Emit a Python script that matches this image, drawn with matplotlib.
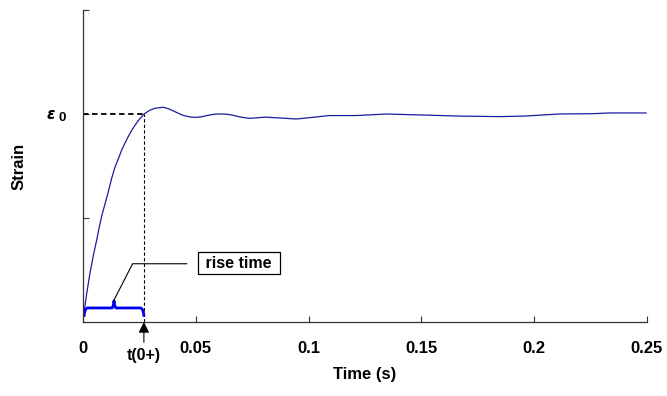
import matplotlib
matplotlib.use('Agg')
import matplotlib.pyplot as plt
import matplotlib.transforms as mtransforms
import numpy as np

plt.rcParams['font.family'] = ['Liberation Sans', 'DejaVu Sans']

# strain response (eps0 = 2 on this scale)
time_s = [0, 0.0004, 0.0017, 0.0031, 0.0046, 0.0061, 0.0072, 0.0083, 0.0097,
          0.0112, 0.0127, 0.0142, 0.0157, 0.0171, 0.0186, 0.020, 0.0215, 0.023,
          0.025, 0.0271, 0.0295, 0.0319, 0.0355,
          0.038, 0.040, 0.042, 0.044, 0.046, 0.048, 0.050,
          0.052, 0.054, 0.056, 0.058, 0.060, 0.062, 0.064, 0.066, 0.068, 0.070,
          0.0739, 0.081, 0.0947, 0.1049, 0.109, 0.121, 0.1345, 0.151, 0.167,
          0.1845, 0.1956, 0.211, 0.2257, 0.2332, 0.2496]
strain = [0.04, 0.08, 0.28, 0.47, 0.64, 0.79, 0.91, 1.02, 1.13,
          1.25, 1.38, 1.49, 1.57, 1.65, 1.72, 1.78, 1.84, 1.89,
          1.95, 2.00, 2.035, 2.055, 2.065,
          2.05, 2.03, 2.01, 1.99, 1.978, 1.97, 1.968,
          1.972, 1.98, 1.99, 1.997, 2.0, 2.0, 1.997, 1.99, 1.98, 1.97,
          1.958, 1.97, 1.952, 1.975, 1.985, 1.985, 2.0, 1.99, 1.98,
          1.975, 1.98, 2.0, 2.003, 2.01, 2.01]

eps0 = 2.0
t_rise = 0.027
x_ticks = [0, 0.05, 0.1, 0.15, 0.2, 0.25]
x_labels = ['0', '0.05', '0.1', '0.15', '0.2', '0.25']
y_ticks = [0, 1, 2, 3]

fig = plt.figure(figsize=(6.67, 3.96), dpi=100)
ax = fig.add_axes([0.1244, 0.1869, 0.8456, 0.7878])

ax.plot(time_s, strain, color='#1c1c9c', lw=0.9)

# dashed guides to eps0 and rise time
ax.plot([0, t_rise], [eps0, eps0], color='black', ls=(0, (3, 2)), lw=1.3)
ax.plot([t_rise, t_rise], [0, eps0], color='black', ls=(0, (3, 2)), lw=0.8)

# brace marking the rise time
def brace(x0, x1, y, h):
    xm = 0.5 * (x0 + x1)
    r = (x1 - x0) * 0.06
    a = np.linspace(0, np.pi / 2, 10)
    left = np.c_[x0 + r - r * np.cos(a), y - h + h * np.sin(a)]
    mid_l = np.c_[[xm - r * 0.5, xm - r * 0.2, xm], [y, y + h * 0.3, y + h * 0.8]]
    mid_r = np.c_[[xm, xm + r * 0.2, xm + r * 0.5], [y + h * 0.8, y + h * 0.3, y]]
    right = np.c_[x1 - r + r * np.cos(a[::-1]), y - h + h * np.sin(a[::-1])]
    pts = np.vstack([left, mid_l, mid_r, right])
    return pts[:, 0], pts[:, 1]

bx, by = brace(0.0005, t_rise, 0.135, 0.085)
ax.plot(bx, by, color='#0000ee', lw=2, solid_capstyle='butt')

# callout
ax.plot([0.0135, 0.022, 0.046], [0.20, 0.56, 0.56], color='black', lw=0.8)
ax.text(0.069, 0.567, ' rise time ', ha='center', va='center', fontsize=11.5,
        fontweight='bold',
        bbox=dict(boxstyle='square,pad=0.22', fc='white', ec='black', lw=0.9))

ax.set_xlim(0, 0.25)
ax.set_ylim(0, 3)
ax.set_xticks(x_ticks)
ax.set_xticklabels(x_labels, fontweight='bold', fontsize=12)
ax.set_yticks(y_ticks)
ax.set_yticklabels([])
ax.tick_params(direction='in', length=4, width=0.8, color='#333333')
ax.tick_params(axis='x', pad=14)
for s in ['top', 'right']:
    ax.spines[s].set_visible(False)
for s in ['left', 'bottom']:
    ax.spines[s].set_color('#333333')
    ax.spines[s].set_linewidth(0.9)

# eps0 label
tr = mtransforms.blended_transform_factory(ax.transAxes, ax.transData)
ax.text(-0.057, 1.995, 'ε', transform=tr, ha='center', va='center',
        fontsize=11, fontweight='bold', style='italic', family='DejaVu Sans')
ax.text(-0.037, 1.96, '0', transform=tr, ha='center', va='center',
        fontsize=9.5, fontweight='bold')

# t(0+) arrow
trx = mtransforms.blended_transform_factory(ax.transData, ax.transAxes)
ax.annotate('', xy=(t_rise, 0), xycoords=trx, xytext=(t_rise, -0.065),
            textcoords=trx,
            arrowprops=dict(arrowstyle='-|>', color='black', lw=0.8,
                            mutation_scale=16, shrinkA=0, shrinkB=0),
            annotation_clip=False)
ax.text(t_rise, -0.082, 't(0+)', transform=trx, ha='center', va='top',
        fontsize=11.5, fontweight='bold')

ax.set_xlabel('Time (s)', fontweight='bold', fontsize=12)
ax.xaxis.set_label_coords(0.5, -0.145)
ax.set_ylabel('Strain', fontweight='bold', fontsize=12)
ax.yaxis.set_label_coords(-0.1, 0.5)

fig.savefig('out.png', dpi=100)
